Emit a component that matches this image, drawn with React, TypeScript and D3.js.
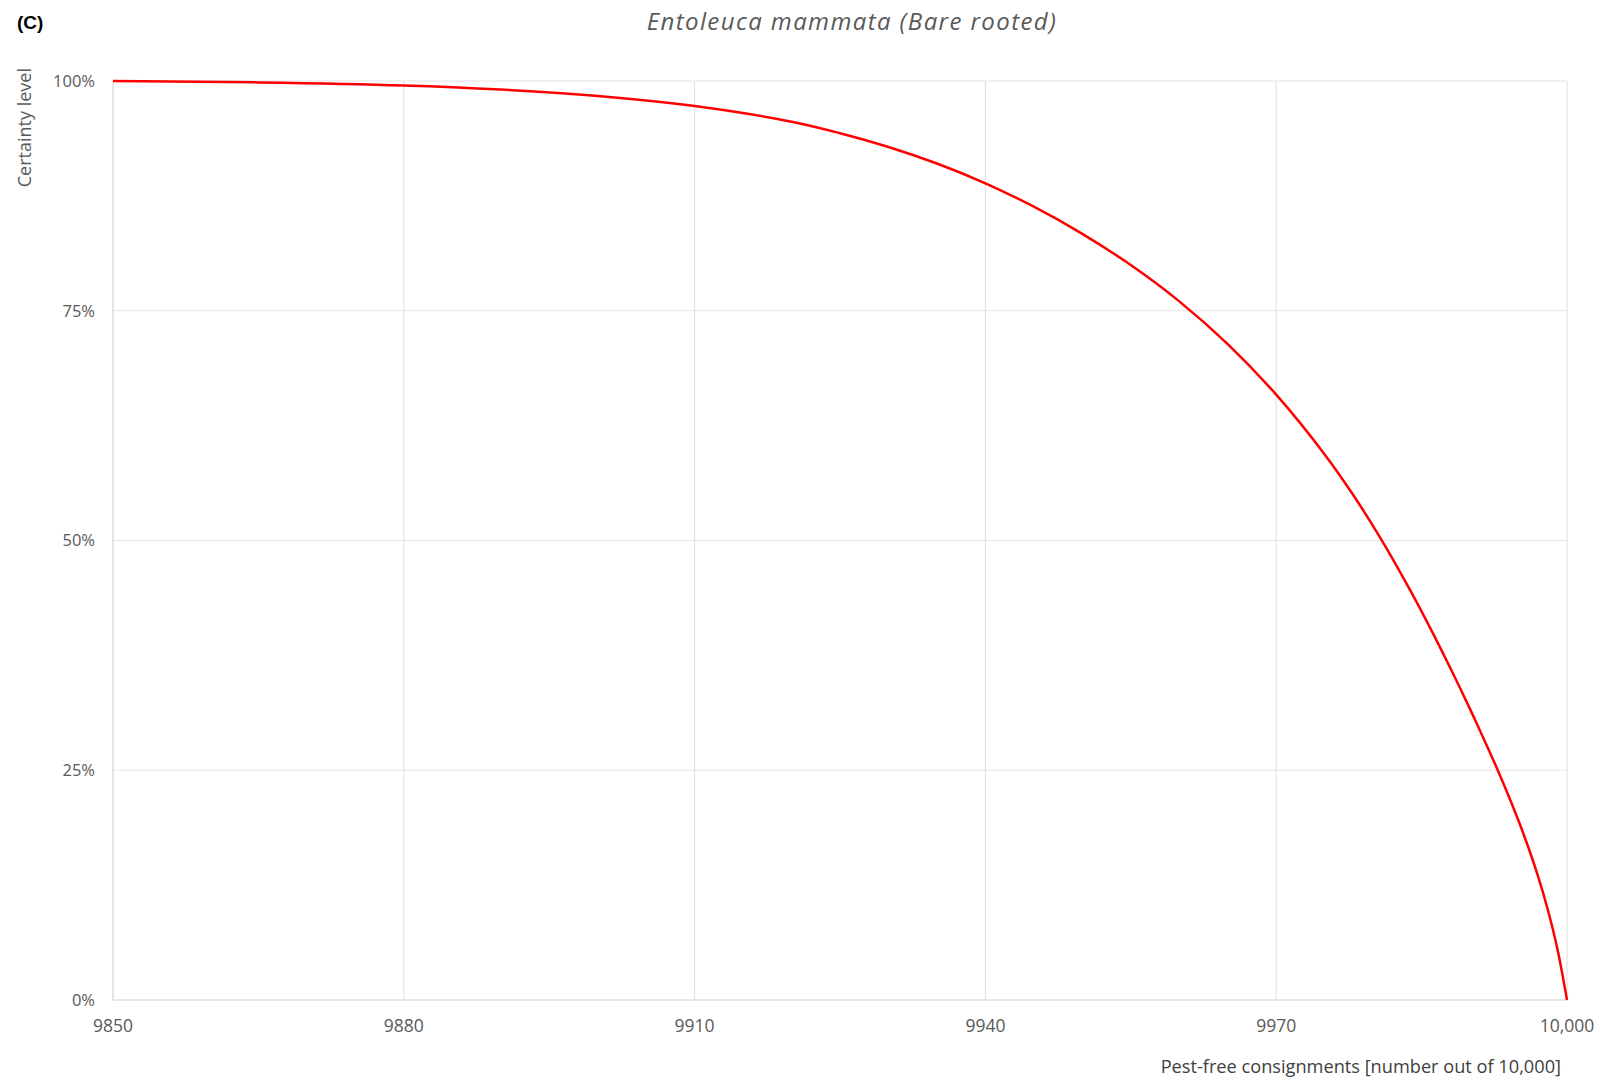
import React from 'react';
import * as d3 from 'd3';

// values
const pestFree = [9850, 9865, 9880, 9890, 9900, 9910, 9920, 9925, 9930, 9935, 9940, 9945, 9950, 9955, 9960, 9965, 9970, 9975, 9978, 9981, 9984, 9986, 9988, 9990, 9992, 9993, 9994, 9995, 9996, 9997, 9998, 9999, 10000];
const certainty = [100, 99.85, 99.52, 99.07, 98.37, 97.27, 95.57, 94.32, 92.82, 91.02, 88.87, 86.32, 83.37, 79.97, 76.02, 71.37, 65.87, 59.37, 54.87, 49.83, 44.25, 40.25, 36.05, 31.65, 27.05, 24.65, 22.15, 19.5, 16.65, 13.5, 9.9, 5.6, 0];

const xTicks = [9850, 9880, 9910, 9940, 9970, 10000];
const yTicks = [0, 25, 50, 75, 100];

const panelLabel = '(C)';
const chartTitle = 'Entoleuca mammata (Bare rooted)';
const xTitle = 'Pest-free consignments [number out of 10,000]';
const yTitle = 'Certainty level';

const WIDTH = 1599;
const HEIGHT = 1079;
const MARGIN = { TOP: 81, RIGHT: 32, BOTTOM: 79, LEFT: 113 };

const App = () => {
  const xScale = d3.scaleLinear()
    .domain([9850, 10000])
    .range([MARGIN.LEFT, WIDTH - MARGIN.RIGHT]);

  const yScale = d3.scaleLinear()
    .domain([0, 100])
    .range([HEIGHT - MARGIN.BOTTOM, MARGIN.TOP]);

  const data = pestFree.map((x, i) => ({ x, y: certainty[i] }));

  const line = d3.line<{ x: number; y: number }>()
    .x(d => xScale(d.x))
    .y(d => yScale(d.y))
    .curve(d3.curveCatmullRom.alpha(0.5));

  const fmtX = (v: number) => (v >= 10000 ? d3.format(',')(v) : String(v));
  const font = '"Open Sans", "Noto Sans", sans-serif';
  const grey = '#595959';

  return (
    <svg
      width={WIDTH}
      height={HEIGHT}
      style={{ position: 'absolute', left: 0, top: 0, background: '#fff' }}
    >
      <rect width={WIDTH} height={HEIGHT} fill="#fff" />

      {/* gridlines */}
      {yTicks.map(t => (
        <line
          key={'gy' + t}
          x1={xScale(9850)}
          x2={xScale(10000)}
          y1={yScale(t)}
          y2={yScale(t)}
          stroke={t === 0 ? '#cfcfcf' : '#e3e3e3'}
          strokeWidth={1.2}
        />
      ))}
      {xTicks.map(t => (
        <line
          key={'gx' + t}
          x1={xScale(t)}
          x2={xScale(t)}
          y1={yScale(0)}
          y2={yScale(100)}
          stroke={t === 9850 ? '#d4d4d4' : '#e3e3e3'}
          strokeWidth={1.2}
        />
      ))}

      {/* tick labels */}
      {yTicks.map(t => (
        <text
          key={'ly' + t}
          x={95}
          y={yScale(t)}
          dy="0.36em"
          textAnchor="end"
          fontFamily={font}
          fontSize={16.5}
          fill={grey}
        >
          {t + '%'}
        </text>
      ))}
      {xTicks.map(t => (
        <text
          key={'lx' + t}
          x={xScale(t)}
          y={1032}
          textAnchor="middle"
          fontFamily={font}
          fontSize={17.5}
          fill={grey}
        >
          {fmtX(t)}
        </text>
      ))}

      {/* curve */}
      <path d={line(data) || ''} fill="none" stroke="#ff0000" strokeWidth={2.5} />

      {/* titles */}
      <text x={17} y={29} fontFamily='"Liberation Sans", Arial, sans-serif' fontWeight="bold" fontSize={19} fill="#000">
        {panelLabel}
      </text>
      <text
        x={852}
        y={30}
        textAnchor="middle"
        fontFamily={font}
        fontStyle="italic"
        fontSize={24}
        letterSpacing={1.4}
        fill={grey}
      >
        {chartTitle}
      </text>
      <text
        transform="translate(31, 68) rotate(-90)"
        textAnchor="end"
        fontFamily={font}
        fontSize={18}
        fill={grey}
      >
        {yTitle}
      </text>
      <text
        x={1561}
        y={1073}
        textAnchor="end"
        fontFamily={font}
        fontSize={18.2}
        fill="#404040"
      >
        {xTitle}
      </text>
    </svg>
  );
};

export default App;
